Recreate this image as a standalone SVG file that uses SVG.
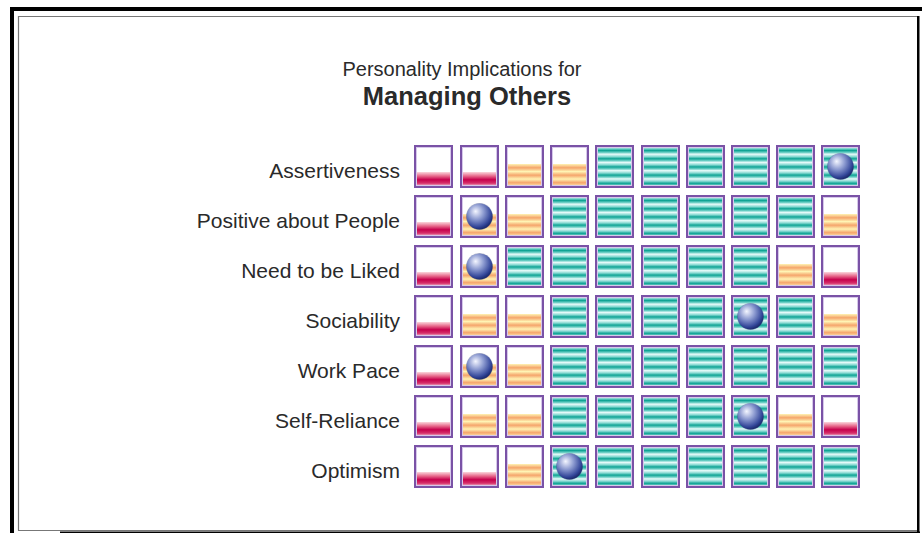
<svg xmlns="http://www.w3.org/2000/svg" xmlns:xlink="http://www.w3.org/1999/xlink" width="922" height="533" viewBox="0 0 922 533">
<style>
.lbl{font-family:"Liberation Sans",Arial,sans-serif;font-size:21px;fill:#2a2a2a;text-anchor:end}
.t1{font-family:"Liberation Sans",Arial,sans-serif;font-size:20px;fill:#2a2a2a;text-anchor:middle}
.t2{font-family:"Liberation Sans",Arial,sans-serif;font-size:25.5px;font-weight:bold;fill:#2a2a2a;text-anchor:middle}
.bd{fill:none;stroke:#7a52a6;stroke-width:2}
.bi{fill:none;stroke:#d6c8ea;stroke-width:1}
</style>
<defs>
<linearGradient id="gT" x1="0" y1="0" x2="0" y2="0.2" spreadMethod="repeat">
<stop offset="0" stop-color="#e8fbfa"/>
<stop offset="0.3" stop-color="#86d9d2"/>
<stop offset="0.55" stop-color="#0fa394"/>
<stop offset="0.8" stop-color="#6fd0c7"/>
<stop offset="1" stop-color="#e8fbfa"/>
</linearGradient>
<linearGradient id="gO" x1="0" y1="0" x2="0" y2="0.34" spreadMethod="repeat">
<stop offset="0" stop-color="#fff4b4"/>
<stop offset="0.5" stop-color="#f5a56c"/>
<stop offset="1" stop-color="#fff0b0"/>
</linearGradient>
<linearGradient id="gR" x1="0" y1="0" x2="0" y2="1">
<stop offset="0" stop-color="#fbd6dc"/>
<stop offset="0.3" stop-color="#e66488"/>
<stop offset="0.55" stop-color="#c6004c"/>
<stop offset="0.8" stop-color="#d5306a"/>
<stop offset="1" stop-color="#f2c0d0"/>
</linearGradient>
<radialGradient id="gB" cx="0.4" cy="0.35" r="0.65" fx="0.35" fy="0.3">
<stop offset="0" stop-color="#f4f6ff"/>
<stop offset="0.45" stop-color="#8c9ad0"/>
<stop offset="0.85" stop-color="#34479a"/>
<stop offset="1" stop-color="#1e2c70"/>
</radialGradient>
<g id="cR"><rect x="1" y="1" width="37" height="41" fill="#fff"/><rect x="2" y="27" width="35" height="14" fill="url(#gR)"/><rect class="bi" x="2.5" y="2.5" width="34" height="38"/><rect class="bd" x="1" y="1" width="37" height="41"/></g>
<g id="cO"><rect x="1" y="1" width="37" height="41" fill="#fff"/><rect x="2" y="19" width="35" height="22" fill="url(#gO)"/><rect class="bi" x="2.5" y="2.5" width="34" height="38"/><rect class="bd" x="1" y="1" width="37" height="41"/></g>
<g id="cT"><rect x="1" y="1" width="37" height="41" fill="url(#gT)"/><rect class="bi" x="2.5" y="2.5" width="34" height="38"/><rect class="bd" x="1" y="1" width="37" height="41"/></g>
<g id="ball"><circle cx="19.5" cy="21.5" r="13.5" fill="#26306e" opacity="0.35"/><circle cx="19.5" cy="21.5" r="13" fill="url(#gB)"/></g>
</defs>
<rect width="922" height="533" fill="#fff"/>
<g id="frame">
<rect x="10" y="7" width="912" height="4" fill="#000"/>
<rect x="10" y="7" width="4" height="526" fill="#000"/>
<path d="M18.5 530.5V16.5H917" fill="none" stroke="#777" stroke-width="1.2"/>
<path d="M18 530.5H917" fill="none" stroke="#777" stroke-width="1"/>
<rect x="917" y="16" width="2.5" height="517" fill="#000"/>
<rect x="60" y="531.5" width="860" height="1.5" fill="#000"/>
</g>
<g id="title">
<text class="t1" x="462" y="76">Personality Implications for</text>
<text class="t2" x="467" y="105">Managing Others</text>
</g>
<g id="row1">
<text class="lbl" x="400" y="178">Assertiveness</text>
<use href="#cR" x="414" y="145"/><use href="#cR" x="460" y="145"/><use href="#cO" x="505" y="145"/><use href="#cO" x="550" y="145"/><use href="#cT" x="595" y="145"/><use href="#cT" x="641" y="145"/><use href="#cT" x="686" y="145"/><use href="#cT" x="731" y="145"/><use href="#cT" x="776" y="145"/><use href="#cT" x="821" y="145"/><use href="#ball" x="821" y="145"/>
</g>
<g id="row2">
<text class="lbl" x="400" y="228">Positive about People</text>
<use href="#cR" x="414" y="195"/><use href="#cO" x="460" y="195"/><use href="#cO" x="505" y="195"/><use href="#cT" x="550" y="195"/><use href="#cT" x="595" y="195"/><use href="#cT" x="641" y="195"/><use href="#cT" x="686" y="195"/><use href="#cT" x="731" y="195"/><use href="#cT" x="776" y="195"/><use href="#cO" x="821" y="195"/><use href="#ball" x="460" y="195"/>
</g>
<g id="row3">
<text class="lbl" x="400" y="278">Need to be Liked</text>
<use href="#cR" x="414" y="245"/><use href="#cO" x="460" y="245"/><use href="#cT" x="505" y="245"/><use href="#cT" x="550" y="245"/><use href="#cT" x="595" y="245"/><use href="#cT" x="641" y="245"/><use href="#cT" x="686" y="245"/><use href="#cT" x="731" y="245"/><use href="#cO" x="776" y="245"/><use href="#cR" x="821" y="245"/><use href="#ball" x="460" y="245"/>
</g>
<g id="row4">
<text class="lbl" x="400" y="328">Sociability</text>
<use href="#cR" x="414" y="295"/><use href="#cO" x="460" y="295"/><use href="#cO" x="505" y="295"/><use href="#cT" x="550" y="295"/><use href="#cT" x="595" y="295"/><use href="#cT" x="641" y="295"/><use href="#cT" x="686" y="295"/><use href="#cT" x="731" y="295"/><use href="#cT" x="776" y="295"/><use href="#cO" x="821" y="295"/><use href="#ball" x="731" y="295"/>
</g>
<g id="row5">
<text class="lbl" x="400" y="378">Work Pace</text>
<use href="#cR" x="414" y="345"/><use href="#cO" x="460" y="345"/><use href="#cO" x="505" y="345"/><use href="#cT" x="550" y="345"/><use href="#cT" x="595" y="345"/><use href="#cT" x="641" y="345"/><use href="#cT" x="686" y="345"/><use href="#cT" x="731" y="345"/><use href="#cT" x="776" y="345"/><use href="#cT" x="821" y="345"/><use href="#ball" x="460" y="345"/>
</g>
<g id="row6">
<text class="lbl" x="400" y="428">Self-Reliance</text>
<use href="#cR" x="414" y="395"/><use href="#cO" x="460" y="395"/><use href="#cO" x="505" y="395"/><use href="#cT" x="550" y="395"/><use href="#cT" x="595" y="395"/><use href="#cT" x="641" y="395"/><use href="#cT" x="686" y="395"/><use href="#cT" x="731" y="395"/><use href="#cO" x="776" y="395"/><use href="#cR" x="821" y="395"/><use href="#ball" x="731" y="395"/>
</g>
<g id="row7">
<text class="lbl" x="400" y="478">Optimism</text>
<use href="#cR" x="414" y="445"/><use href="#cR" x="460" y="445"/><use href="#cO" x="505" y="445"/><use href="#cT" x="550" y="445"/><use href="#cT" x="595" y="445"/><use href="#cT" x="641" y="445"/><use href="#cT" x="686" y="445"/><use href="#cT" x="731" y="445"/><use href="#cT" x="776" y="445"/><use href="#cT" x="821" y="445"/><use href="#ball" x="550" y="445"/>
</g>
<g id="connectors"/>
</svg>
